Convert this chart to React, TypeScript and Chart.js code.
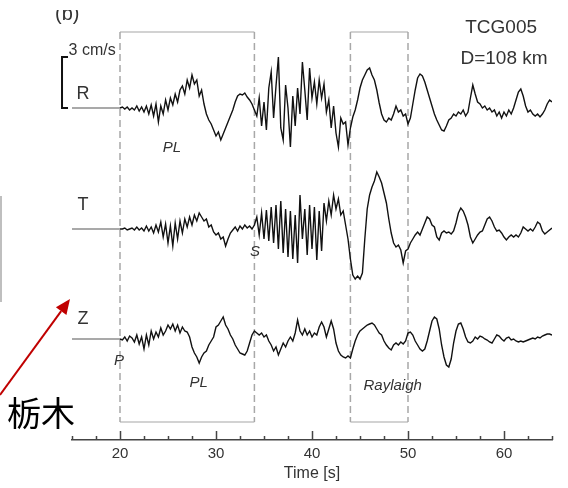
import { useEffect, useRef } from "react";
import { Chart, registerables } from "chart.js";

Chart.register(...registerables);

// ---- time axis (s) ----
const T_PRE = 15; // start of the record (flat pre-event)
const T_START = 20;
const T_STEP = 0.25;
const X_MIN = 15;
const X_MAX = 65;
const X_TICKS = [20, 30, 40, 50, 60];
const MINOR_STEP = 2.5;

// ---- vertical layout (amplitude units, 17 units = 1 cm/s) ----
const Y_MIN = 0;
const Y_MAX = 440;
const R_OFFSET = 332;
const T_OFFSET = 211;
const Z_OFFSET = 101;
const SCALE_BAR = 51; // 3 cm/s
const SCALE_BAR_LABEL = "3 cm/s";

// ---- traces (velocity, units above) sampled every 0.25 s from 20 s ----
const R_VALUES = [
  0, 1, -1, 1, -2, 0,
  -2, 2, -3, 1, -4,
  2, -6, 3, -8, 4,
  -14, 2, -6, 8, -2,
  10, 3, 14, 6, 18,
  22, 14, 28, 20, 33,
  24, 28, 12, 18, 4,
  -6, -12, -16, -22, -28,
  -24, -32, -26, -20, -14,
  -8, -2, 6, 12, 14,
  13, 15, 11, 8, 4,
  -2, -8, 10, -18, 6,
  -22, 20, 36, -10, 22,
  51, -20, -32, 23, 0,
  -39, 12, -18, 20, -6,
  46, 18, -12, 40, 10,
  26, 4, 28, 10, 24,
  -4, 8, -20, 2, -25,
  -39, -10, -16, -14, -37,
  -20, -9, -2, 8, 20,
  28, 33, 38, 40, 33,
  28, 18, 5, -6, -12,
  -14, -10, -12, -6, 2,
  -4, -2, -8, -6, -16,
  -10, 4, 18, 30, 34,
  32, 26, 18, 10, 2,
  -6, -12, -17, -22, -23,
  -18, -12, -10, -6, -8,
  -4, -6, -2, -8, -4,
  10, 23, 14, 6, 4,
  0, 2, -2, 0, -4,
  -2, -8, -4, -10, -4,
  -8, -2, -6, 0, 8,
  16, 19, 12, 2, -4,
  -2, -6, -8, -6, -9,
  -6, -2, 4, 8, 6,
];

const T_VALUES = [
  0, 0, 1, -1, 0, 1,
  -1, 2, -1, 1, -2,
  3, -2, 2, -4, 4,
  -3, 7, -8, 5, -14,
  3, -17, 6, -10, 8,
  -4, 10, 2, 12, 4,
  14, 8, 16, 12, 8,
  10, 2, 4, -3, -6,
  -4, -10, -8, -17, -10,
  -4, -1, 2, -2, 3,
  0, 4, 1, 3, 0,
  4, 12, -6, 16, -10,
  19, -12, 22, -14, 24,
  -20, 28, -24, 20, -28,
  18, -30, 14, -34, 34,
  -10, 20, -26, 24, -20,
  22, -31, 18, -22, 26,
  8, 28, 14, 34, 20,
  30, 14, 18, 4, -10,
  -30, -46, -50, -47, -50,
  -44, -10, 20, 34, 42,
  48, 57, 52, 46, 36,
  26, 10, -4, -14, -18,
  -16, -21, -34, -22, -20,
  -14, -10, -6, -3, -6,
  0, 6, 12, 10, 4,
  2, -8, -11, -4, -2,
  -4, -3, -5, -2, 6,
  16, 21, 18, 12, 4,
  -8, -14, -10, -6, -3,
  -2, 4, 10, 12, 8,
  2, -2, -1, -4, -8,
  -11, -8, -6, -8, -6,
  -8, -4, 2, 0, -2,
  0, -2, 2, 7, 5,
  -2, -5, -3, -1, 1,
];

const Z_VALUES = [
  0, -1, 2, -2, 3, 1,
  -3, 4, -5, 2, -10,
  4, -6, 8, 0, 7,
  2, 11, 4, 8, 14,
  10, 15, 8, 14, 6,
  12, 8, 7, 2, -8,
  -14, -18, -24, -18, -14,
  -12, -6, -2, 2, 12,
  14, 18, 22, 14, 10,
  4, 0, -6, -10, -14,
  -15, -16, -12, -4, 4,
  8, 6, 4, 6, 2,
  4, -2, -6, -12, -8,
  -16, -10, -4, -8, -2,
  2, -2, 6, 19, 8,
  4, 10, 4, 8, 2,
  6, 4, 12, 17, 12,
  2, 10, 18, 10, -4,
  -12, -16, -18, -19, -17,
  -19, -10, -2, 4, 8,
  10, 12, 14, 15, 16,
  14, 10, 6, 4, -2,
  -6, -9, -11, -6, -4,
  -6, -3, -5, -2, 6,
  7, 4, -2, -6, -10,
  -12, -10, -2, 8, 18,
  22, 20, 10, -6, -18,
  -26, -28, -20, -4, 8,
  15, 16, 10, 2, -3,
  -4, -2, 2, 0, 3,
  2, 0, -1, -3, -4,
  0, 4, 3, 0, -2,
  1, 2, -1, 0, -2,
  -3, -2, -3, -2, -1,
  0, 1, 0, 2, 1,
  3, 4, 5, 5, 4,
];

// ---- phase windows (s) ----
const WINDOWS = [
  [20, 34],
  [44, 50],
];
const WINDOW_TOP = 408;
const WINDOW_BOTTOM = 18;

// ---- in-plot labels (time, amplitude-axis position) ----
const COMPONENT_LABELS = [
  { text: "R", t: 16.15, y: 346 },
  { text: "T", t: 16.15, y: 235 },
  { text: "Z", t: 16.15, y: 121 },
];
const PHASE_LABELS = [
  { text: "PL", t: 25.4, y: 292 },
  { text: "S", t: 34.05, y: 188 },
  { text: "P", t: 19.9, y: 79 },
  { text: "PL", t: 28.2, y: 57 },
  { text: "Raylaigh", t: 48.4, y: 54 },
];
const STATION_LABELS = [
  { text: "TCG005", t: 59.7, y: 412 },
  { text: "D=108 km", t: 60.0, y: 381 },
];

const FONT = '"Liberation Sans", Arial, sans-serif';

function buildSeries(values: number[], offset: number) {
  const pts = [{ x: T_PRE, y: offset }];
  values.forEach((v, i) => pts.push({ x: T_START + i * T_STEP, y: offset + v }));
  return pts;
}

const decorPlugin = {
  id: "decor",
  beforeDatasetsDraw(chart: any) {
    const { ctx, scales } = chart;
    const xs = scales.x;
    const ys = scales.y;
    ctx.save();
    const yt = ys.getPixelForValue(WINDOW_TOP);
    const yb = ys.getPixelForValue(WINDOW_BOTTOM);
    WINDOWS.forEach(([a, b]) => {
      const xa = xs.getPixelForValue(a);
      const xb = xs.getPixelForValue(b);
      ctx.strokeStyle = "#c4c4c4";
      ctx.lineWidth = 1.5;
      ctx.setLineDash([]);
      ctx.beginPath();
      ctx.moveTo(xa, yt);
      ctx.lineTo(xb, yt);
      ctx.moveTo(xa, yb);
      ctx.lineTo(xb, yb);
      ctx.stroke();
      ctx.strokeStyle = "#a8a8a8";
      ctx.setLineDash([7, 4]);
      ctx.beginPath();
      ctx.moveTo(xa, yt);
      ctx.lineTo(xa, yb);
      ctx.moveTo(xb, yt);
      ctx.lineTo(xb, yb);
      ctx.stroke();
    });
    ctx.restore();
  },
  afterDraw(chart: any) {
    const { ctx, scales, chartArea } = chart;
    const xs = scales.x;
    const ys = scales.y;
    ctx.save();
    // tick marks (pointing up into the plot)
    ctx.strokeStyle = "#444";
    ctx.lineWidth = 1.5;
    ctx.setLineDash([]);
    ctx.beginPath();
    for (let v = X_MIN; v <= X_MAX + 1e-9; v += MINOR_STEP) {
      const x = Math.round(xs.getPixelForValue(v)) + 0.5;
      const len = Math.abs(v % 10) < 1e-9 ? 9 : 4;
      ctx.moveTo(x, chartArea.bottom);
      ctx.lineTo(x, chartArea.bottom - len);
    }
    ctx.stroke();

    ctx.fillStyle = "#333";
    ctx.textAlign = "center";
    ctx.textBaseline = "middle";
    ctx.font = `18px ${FONT}`;
    COMPONENT_LABELS.forEach((l) => ctx.fillText(l.text, xs.getPixelForValue(l.t), ys.getPixelForValue(l.y)));
    ctx.font = `italic 15px ${FONT}`;
    PHASE_LABELS.forEach((l) => ctx.fillText(l.text, xs.getPixelForValue(l.t), ys.getPixelForValue(l.y)));
    ctx.font = `19px ${FONT}`;
    STATION_LABELS.forEach((l) => ctx.fillText(l.text, xs.getPixelForValue(l.t), ys.getPixelForValue(l.y)));

    // amplitude scale bar
    const bx = xs.getPixelForValue(13.96);
    const b0 = ys.getPixelForValue(R_OFFSET);
    const b1 = ys.getPixelForValue(R_OFFSET + SCALE_BAR);
    ctx.strokeStyle = "#111";
    ctx.lineWidth = 2;
    ctx.beginPath();
    ctx.moveTo(bx + 6, b1);
    ctx.lineTo(bx, b1);
    ctx.lineTo(bx, b0);
    ctx.lineTo(bx + 6, b0);
    ctx.stroke();
    ctx.font = `16px ${FONT}`;
    ctx.fillText(SCALE_BAR_LABEL, xs.getPixelForValue(17.1), ys.getPixelForValue(R_OFFSET + SCALE_BAR + 6));

    // panel letter (cut at top)
    ctx.save();
    ctx.beginPath();
    ctx.rect(0, 10, 200, 30);
    ctx.clip();
    ctx.textAlign = "left";
    ctx.textBaseline = "alphabetic";
    ctx.font = `20px ${FONT}`;
    ctx.fillText("(b)", 55, 20);
    ctx.restore();

    // edge of neighbouring panel
    ctx.strokeStyle = "#aaa";
    ctx.lineWidth = 1.5;
    ctx.beginPath();
    ctx.moveTo(1, 196);
    ctx.lineTo(1, 302);
    ctx.stroke();

    // red arrow and place name
    const ax0 = 0, ay0 = 395, ax1 = 70, ay1 = 299;
    const ang = Math.atan2(ay1 - ay0, ax1 - ax0);
    const hl = 15, hw = 6.5;
    const bxh = ax1 - hl * Math.cos(ang);
    const byh = ay1 - hl * Math.sin(ang);
    ctx.strokeStyle = "#c00000";
    ctx.fillStyle = "#c00000";
    ctx.lineWidth = 2;
    ctx.beginPath();
    ctx.moveTo(ax0, ay0);
    ctx.lineTo(bxh, byh);
    ctx.stroke();
    ctx.beginPath();
    ctx.moveTo(ax1, ay1);
    ctx.lineTo(bxh + hw * Math.sin(ang), byh - hw * Math.cos(ang));
    ctx.lineTo(bxh - hw * Math.sin(ang), byh + hw * Math.cos(ang));
    ctx.closePath();
    ctx.fill();

    ctx.fillStyle = "#000";
    ctx.textAlign = "left";
    ctx.textBaseline = "middle";
    ctx.font = `34px "Noto Sans CJK JP"`;
    ctx.fillText("栃木", 7, 413);
    ctx.restore();
  },
};

export default function App() {
  const ref = useRef<HTMLCanvasElement | null>(null);
  useEffect(() => {
    if (!ref.current) return;
    const seg = {
      borderColor: (c: any) => (c.p0.parsed.x < T_START ? "#555" : "#111"),
      borderWidth: (c: any) => (c.p0.parsed.x < T_START ? 1.2 : 1.4),
    };
    const mk = (label: string, values: number[], offset: number) => ({
      label,
      data: buildSeries(values, offset),
      borderColor: "#111",
      borderWidth: 1.4,
      pointRadius: 0,
      tension: 0,
      fill: false,
      segment: seg,
    });
    const chart = new Chart(ref.current, {
      type: "line",
      data: {
        datasets: [mk("R", R_VALUES, R_OFFSET), mk("T", T_VALUES, T_OFFSET), mk("Z", Z_VALUES, Z_OFFSET)],
      },
      plugins: [decorPlugin],
      options: {
        animation: false,
        responsive: false,
        events: [],
        layout: { padding: { left: 72, right: 16, top: 0, bottom: 0 } },
        plugins: { legend: { display: false }, tooltip: { enabled: false } },
        scales: {
          x: {
            type: "linear",
            min: X_MIN,
            max: X_MAX,
            afterBuildTicks: (s: any) => {
              s.ticks = X_TICKS.map((v) => ({ value: v }));
            },
            afterFit: (s: any) => {
              s.height = 48;
            },
            grid: { display: false },
            border: { display: true, color: "#444", width: 1.5 },
            ticks: { color: "#333", font: { family: FONT, size: 15 }, padding: -3, maxRotation: 0 },
            title: {
              display: true,
              text: "Time [s]",
              color: "#333",
              font: { family: FONT, size: 16 },
              padding: { top: 0, bottom: 5 },
            },
          },
          y: { type: "linear", min: Y_MIN, max: Y_MAX, display: false },
        },
      },
    } as any);
    return () => chart.destroy();
  }, []);
  return (
    <div style={{ position: "fixed", left: 0, top: 0, width: 568, height: 488, background: "#fff" }}>
      <canvas ref={ref} width={568} height={488} style={{ display: "block" }} />
    </div>
  );
}
